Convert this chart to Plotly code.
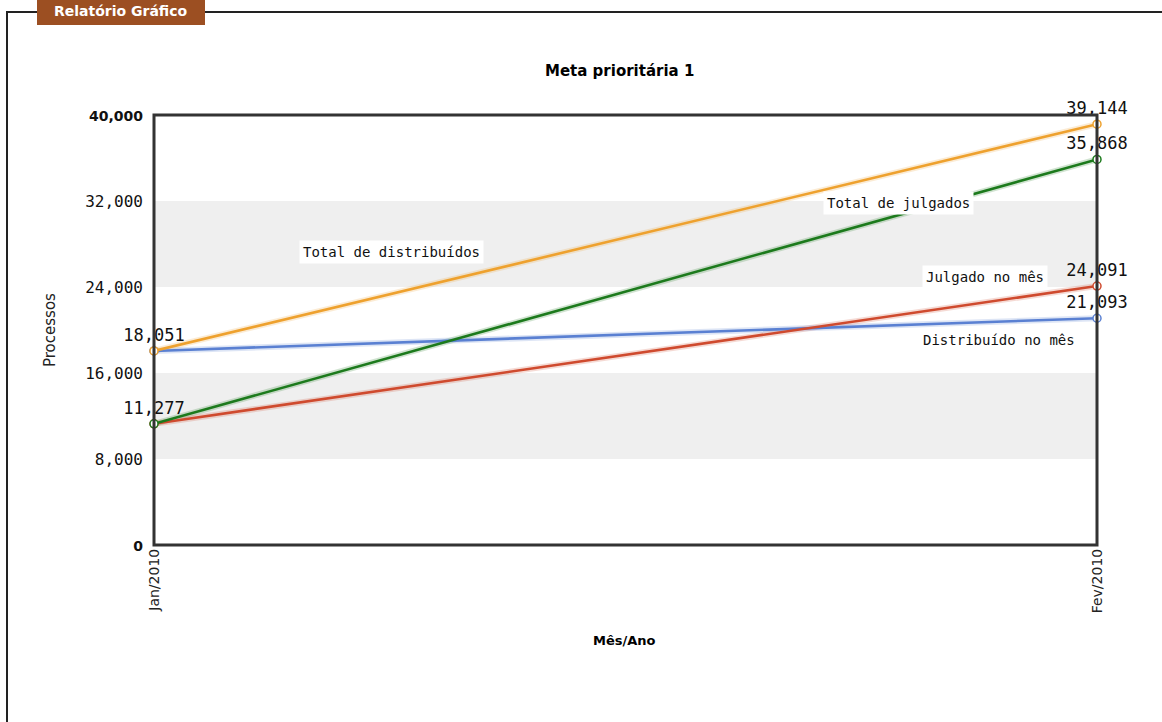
import plotly.graph_objects as go

# ---- data ----
months = ["Jan/2010", "Fev/2010"]
total_distribuidos = [18051, 39144]
distribuido_mes = [18051, 21093]
total_julgados = [11277, 35868]
julgado_mes = [11277, 24091]

series_names = ["Total de distribuídos", "Total de julgados", "Julgado no mês", "Distribuído no mês"]
series_values = [total_distribuidos, total_julgados, julgado_mes, distribuido_mes]
series_colors = ["#eea12e", "#1c7a1c", "#cf4a2e", "#5a80d2"]
# which points carry a value label (Jan duplicates are hidden)
show_label = [[True, True], [True, True], [False, True], [False, True]]
# position of the in-chart series labels (x in category fraction, y in data units)
label_pos = [(0.252, 27250), (0.789, 31800), (0.881, 24930), (0.896, 19070)]

y_ticks = [0, 8000, 16000, 24000, 32000, 40000]
bands = [(8000, 16000), (24000, 32000)]

W, H = 1162, 722
L, R, T, B = 154, 1097, 115, 545
FONT = "DejaVu Sans"
MONO = "DejaVu Sans Mono"

xs = list(range(len(months)))

fig = go.Figure()

# faint glow under lines
for vals, col in zip(series_values, series_colors):
    fig.add_trace(go.Scatter(x=xs, y=vals, mode="lines",
                             line=dict(color=col, width=6), opacity=0.2,
                             hoverinfo="skip", showlegend=False, cliponaxis=False))

order = [3, 2, 1, 0]  # draw orange last (on top)
for i in order:
    vals = series_values[i]
    txt = [f"{v:,}" if s else "" for v, s in zip(vals, show_label[i])]
    fig.add_trace(go.Scatter(
        x=xs, y=vals, mode="lines+markers+text", name=series_names[i],
        line=dict(color=series_colors[i], width=2.6),
        marker=dict(symbol="circle", size=8, color="white",
                    line=dict(color=series_colors[i], width=1.5)),
        text=txt, textposition="top center",
        textfont=dict(family=MONO, size=17, color="#111111"),
        cliponaxis=False, showlegend=False))

shapes = []
for lo, hi in bands:
    shapes.append(dict(type="rect", xref="paper", yref="y", x0=0, x1=1, y0=lo, y1=hi,
                       fillcolor="#efefef", line=dict(width=0), layer="below"))


def px(x):
    return (x - L) / (R - L)


def py(y):
    return (B - y) / (B - T)


# plot border
shapes.append(dict(type="rect", xref="paper", yref="paper", x0=0, x1=1, y0=0, y1=1,
                   line=dict(color="#333333", width=3), layer="above"))
# fieldset frame
shapes.append(dict(type="line", xref="paper", yref="paper", x0=px(7), x1=px(7),
                   y0=py(12), y1=py(725), line=dict(color="#222222", width=2)))
shapes.append(dict(type="line", xref="paper", yref="paper", x0=px(6), x1=px(1165),
                   y0=py(12), y1=py(12), line=dict(color="#222222", width=2)))
shapes.append(dict(type="rect", xref="paper", yref="paper", x0=px(37), x1=px(205),
                   y0=py(-2), y1=py(25), fillcolor="#9c4f22", line=dict(width=0)))


def ann(x, y, text, font, angle=0, ref="paper", **kw):
    d = dict(x=x, y=y, xref=ref if ref != "paper" else "paper",
             yref=("y" if ref == "x" else "paper"), text=text, showarrow=False,
             xanchor="center", yanchor="middle", textangle=angle, font=font)
    d.update(kw)
    return d


annotations = []
annotations.append(ann(px(121), py(11), "<b>Relatório Gráfico</b>",
                       dict(family=FONT, size=14, color="white")))
for name, (lx, ly) in zip(series_names, label_pos):
    annotations.append(ann(lx, ly, name, dict(family=MONO, size=14, color="#111111"),
                           ref="x", bgcolor="white", borderpad=3))
annotations.append(ann(px(619), py(71), "<b>Meta prioritária 1</b>",
                       dict(family=FONT, size=15, color="black")))
annotations.append(ann(px(624), py(640), "<b>Mês/Ano</b>",
                       dict(family=FONT, size=13, color="black")))
annotations.append(ann(px(50), py(330), "Processos",
                       dict(family=FONT, size=15, color="#222222"), angle=-90))

tick_text = []
for v in y_ticks:
    s = f"{v:,}"
    if v in (y_ticks[0], y_ticks[-1]):
        tick_text.append(f'<span style="font-family:DejaVu Sans;font-size:14px"><b>{s}</b></span>')
    else:
        tick_text.append(s)

fig.update_layout(
    width=W, height=H,
    margin=dict(l=L, r=W - R, t=T, b=H - B, pad=0),
    paper_bgcolor="white", plot_bgcolor="white",
    shapes=shapes, annotations=annotations,
    font=dict(family=FONT, size=12, color="#111111"),
    xaxis=dict(range=[0, 1], tickvals=xs, ticktext=months, tickangle=-90,
               showgrid=False, zeroline=False, showline=False, ticks="",
               tickfont=dict(family=FONT, size=14, color="#222222"), fixedrange=True),
    yaxis=dict(range=[0, 40000], tickvals=y_ticks, ticktext=tick_text,
               showgrid=False, zeroline=False, showline=False, ticks="", ticklabelstandoff=10,
               tickfont=dict(family=MONO, size=16, color="#111111"), fixedrange=True),
)

fig.write_html("out.html")
